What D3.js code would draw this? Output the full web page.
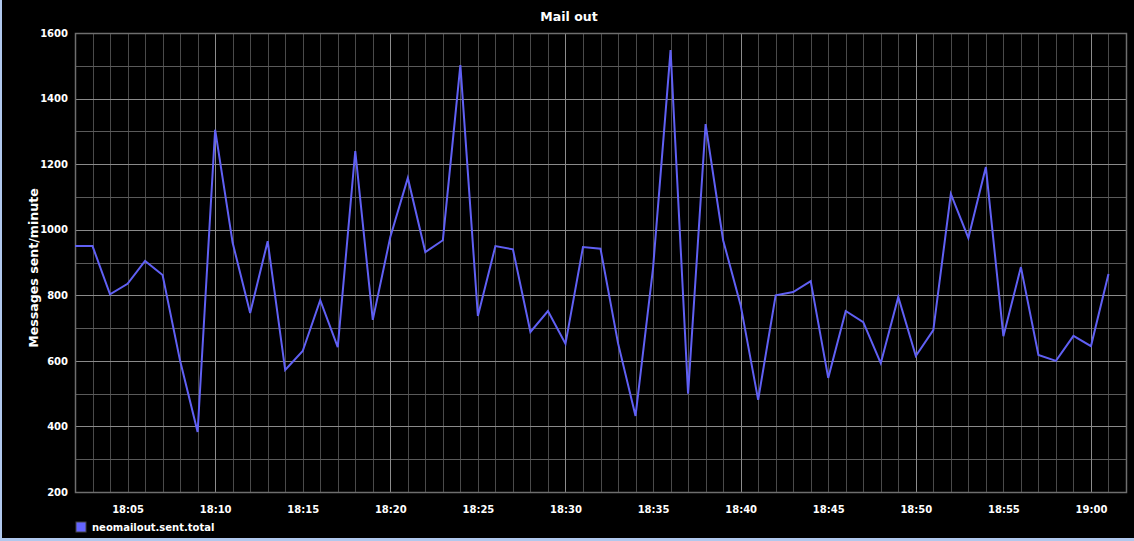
<!DOCTYPE html>
<html>
<head>
<meta charset="utf-8">
<script src="https://cdn.jsdelivr.net/npm/d3@7"></script>
<style>
  html, body { margin: 0; padding: 0; background: #000; }
  svg { display: block; font-family: "DejaVu Sans", sans-serif; }
</style>
</head>
<body>
<svg></svg>
<script>
// one sample per minute, 18:02 .. 19:01
let startMinute = 2;
let sentPerMinute = [
  950, 950, 803, 835, 905, 862, 600, 383, 1305, 960,
  746, 965, 572, 630, 785, 642, 1240, 725, 978, 1158,
  932, 968, 1502, 737, 950, 940, 688, 752, 652, 947,
  942, 654, 432, 883, 1548, 500, 1322, 968, 770, 481,
  800, 810, 843, 548, 752, 718, 593, 795, 615, 694,
  1109, 975, 1191, 675, 886, 618, 600, 676, 645, 865
];
let yTicks = [200, 400, 600, 800, 1000, 1200, 1400, 1600];
let seriesName = "neomailout.sent.total";

let width = 1134;
let height = 541;
let plotLeft = 75, plotRight = 1126, plotTop = 33, plotBottom = 492;

let data = sentPerMinute.map((v, i) => ({
  t: new Date(2013, 0, 1, 18, startMinute + i),
  v: v
}));

let xScale = d3.scaleTime()
  .domain([new Date(2013, 0, 1, 18, 2), new Date(2013, 0, 1, 19, 2)])
  .range([plotLeft, plotRight]);

let yScale = d3.scaleLinear()
  .domain([200, 1600])
  .range([plotBottom, plotTop]);

let svg = d3.select("svg")
  .attr("width", width)
  .attr("height", height);

svg.append("rect")
  .attr("width", width)
  .attr("height", height)
  .attr("fill", "#000");

// grid: minor every minute / 100, major every 10 minutes / 200
let grid = svg.append("g");
grid.selectAll("line.vmin")
  .data(xScale.ticks(d3.timeMinute.every(1)))
  .enter().append("line")
  .attr("x1", d => Math.round(xScale(d)) + 0.5).attr("x2", d => Math.round(xScale(d)) + 0.5)
  .attr("y1", plotTop).attr("y2", plotBottom)
  .attr("stroke", "#4a4a4a");
grid.selectAll("line.hmin")
  .data(d3.range(300, 1600, 200))
  .enter().append("line")
  .attr("x1", plotLeft).attr("x2", plotRight)
  .attr("y1", d => Math.round(yScale(d)) + 0.5).attr("y2", d => Math.round(yScale(d)) + 0.5)
  .attr("stroke", "#5a5a5a");
grid.selectAll("line.vmaj")
  .data(xScale.ticks(d3.timeMinute.every(10)))
  .enter().append("line")
  .attr("x1", d => Math.round(xScale(d)) + 0.5).attr("x2", d => Math.round(xScale(d)) + 0.5)
  .attr("y1", plotTop).attr("y2", plotBottom)
  .attr("stroke", "#8c8c8c");
grid.selectAll("line.hmaj")
  .data(yTicks)
  .enter().append("line")
  .attr("x1", plotLeft).attr("x2", plotRight)
  .attr("y1", d => Math.round(yScale(d)) + 0.5).attr("y2", d => Math.round(yScale(d)) + 0.5)
  .attr("stroke", "#8a8a8a");

// frame
svg.append("rect")
  .attr("x", plotLeft + 0.5)
  .attr("y", plotTop + 0.5)
  .attr("width", plotRight - plotLeft)
  .attr("height", plotBottom - plotTop)
  .attr("fill", "none")
  .attr("stroke", "#6e6e6e")
  .attr("stroke-width", 1.5);

// axes labels
let yAxis = d3.axisLeft(yScale)
  .tickValues(yTicks)
  .tickFormat(d3.format("d"))
  .tickSize(0)
  .tickPadding(7);
let gy = svg.append("g")
  .attr("transform", "translate(" + plotLeft + ",0)")
  .call(yAxis);
gy.select(".domain").remove();
gy.selectAll("text")
  .attr("fill", "#fff")
  .style("font-size", "10px")
  .style("font-weight", "bold")
  .style("font-family", "DejaVu Sans");

let xAxis = d3.axisBottom(xScale)
  .ticks(d3.timeMinute.every(5))
  .tickFormat(d3.timeFormat("%H:%M"))
  .tickSize(0)
  .tickPadding(14);
let gx = svg.append("g")
  .attr("transform", "translate(0," + plotBottom + ")")
  .call(xAxis);
gx.select(".domain").remove();
gx.selectAll("text")
  .attr("fill", "#fff")
  .style("font-size", "10px")
  .style("font-weight", "bold")
  .style("font-family", "DejaVu Sans");

// series
let line = d3.line()
  .x(d => xScale(d.t))
  .y(d => yScale(d.v));
svg.append("path")
  .datum(data)
  .attr("d", line)
  .attr("fill", "none")
  .attr("stroke", "#6060f4")
  .attr("stroke-width", 2)
  .attr("stroke-linejoin", "miter");

// title and y label
svg.append("text")
  .attr("x", 569)
  .attr("y", 21)
  .attr("text-anchor", "middle")
  .attr("fill", "#fff")
  .style("font-size", "12.5px")
  .style("font-weight", "bold")
  .text("Mail out");

svg.append("text")
  .attr("transform", "rotate(-90)")
  .attr("x", -268)
  .attr("y", 38)
  .attr("text-anchor", "middle")
  .attr("fill", "#fff")
  .style("font-size", "12.6px")
  .style("font-weight", "bold")
  .text("Messages sent/minute");

// legend
svg.append("rect")
  .attr("x", 76)
  .attr("y", 522)
  .attr("width", 10)
  .attr("height", 10)
  .attr("fill", "#6464ff")
  .attr("stroke", "#444");
svg.append("text")
  .attr("x", 92)
  .attr("y", 531)
  .attr("fill", "#fff")
  .style("font-size", "10px")
  .style("font-weight", "bold")
  .text(seriesName);

// window border
svg.append("rect").attr("x", 0).attr("y", 0).attr("width", 2).attr("height", height).attr("fill", "#b0c8ee");
svg.append("rect").attr("x", 0).attr("y", height - 3).attr("width", width).attr("height", 3).attr("fill", "#b0c8ee");
</script>
</body>
</html>
